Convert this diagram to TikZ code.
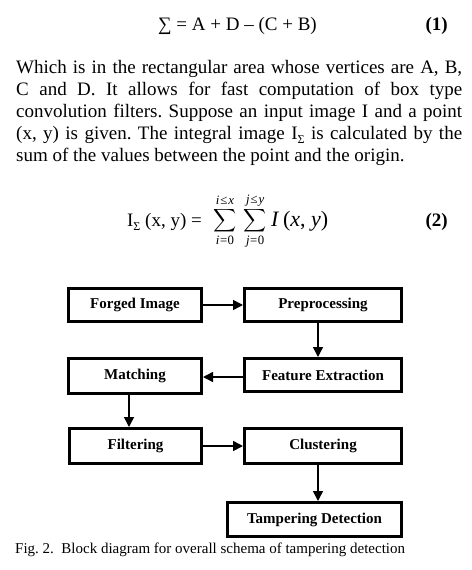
\documentclass[tikz,border=0pt]{standalone}
\usepackage{fontspec}
\setmainfont{Liberation Serif}
\usetikzlibrary{arrows.meta}
\frenchspacing
\newcommand{\subsig}{\raisebox{-4pt}{\fontsize{12}{12}\selectfont Σ}}
\newcommand{\limtxt}[1]{\mbox{\fontsize{8}{8}\selectfont #1}}
\begin{document}
\begin{tikzpicture}[x=1pt,y=-1pt,
  box/.style={draw, line width=3pt, inner sep=0pt, font=\fontsize{15}{18}\selectfont\bfseries},
  txt/.style={inner sep=0pt, anchor=base west, font=\fontsize{19}{22}\selectfont},
  arr/.style={line width=1.5pt, -{Triangle[length=10pt,width=10pt]}}]
\useasboundingbox (0,0) rectangle (471,570);

% equation 1
\node[inner sep=0pt, anchor=base, font=\fontsize{19}{22}\selectfont] (eqa) at (237.5,30) {∑ = A + D – (C + B)};
\node[inner sep=0pt, anchor=base east, font=\fontsize{19}{22}\selectfont\bfseries] (eqan) at (448,30) {(1)};

% paragraph
\node[txt] (l1) at (16,73) {\makebox[446pt][s]{Which is in the rectangular area whose vertices are A, B,}};
\node[txt] (l2) at (16,95) {\makebox[446pt][s]{C and D. It allows for fast computation of box type}};
\node[txt] (l3) at (16,117) {\makebox[446pt][s]{convolution filters. Suppose an input image I and a point}};
\node[txt] (l4) at (16,139) {\makebox[446pt][s]{(x, y) is given. The integral image I\subsig{} is calculated by the}};
\node[txt] (l5) at (16,161) {sum of the values between the point and the origin.};

% equation 2
\node[inner sep=0pt, anchor=base east, font=\fontsize{19}{22}\selectfont] (eqbl) at (202,226) {I\subsig{} (x, y) =};
\node[inner sep=0pt, anchor=west, scale=1.6] (eqbs) at (213,221) {$\displaystyle\sum_{\limtxt{\textit{i}\kern0.4pt=\kern0.2pt0}}^{\limtxt{\textit{i}\kern0.6pt≤\kern0.6pt\textit{x}}}\;\sum_{\limtxt{\textit{j}\kern0.4pt=\kern0.2pt0}}^{\limtxt{\textit{j}\kern0.6pt≤\kern0.6pt\textit{y}}}$};
\node[inner sep=0pt, anchor=base west, font=\fontsize{22}{24}\selectfont] (eqbr) at (271,226) {\textit{I}\,(\textit{x}, \textit{y})};
\node[inner sep=0pt, anchor=base east, font=\fontsize{19}{22}\selectfont\bfseries] (eqbn) at (448,226) {(2)};

% boxes
\node[box, minimum width=133pt, minimum height=33pt] (fi) at (135,305) {Forged Image};
\node[box, minimum width=157pt, minimum height=33pt] (pre) at (323,305) {Preprocessing};
\node[box, minimum width=157pt, minimum height=33pt] (fe) at (323,375) {Feature Extraction};
\node[box, minimum width=133pt, minimum height=35pt] (ma) at (135,376) {Matching};
\node[box, minimum width=132pt, minimum height=35pt] (fil) at (135.5,446) {Filtering};
\node[box, minimum width=157pt, minimum height=35pt] (cl) at (323,446) {Clustering};
\node[box, minimum width=174pt, minimum height=34pt] (td) at (314.5,519.5) {Tampering Detection};

% arrows
\draw[arr] (fi.east) -- (pre.west);
\draw[arr] ([xshift=-5pt]pre.south) -- ([xshift=-5pt]fe.north);
\draw[arr] ([yshift=-2pt]fe.west) -- ([yshift=-2pt]fe.west -| ma.east);
\draw[arr] ([xshift=-6pt]ma.south) -- ([xshift=-6pt]ma.south |- fil.north);
\draw[arr] (fil.east) -- (cl.west);
\draw[arr] ([xshift=-5pt]cl.south) -- ([xshift=-5pt]cl.south |- td.north);

% caption
\node[inner sep=0pt, anchor=base west, font=\fontsize{15}{18}\selectfont] (cap) at (15,553) {Fig. 2.\ \ Block diagram for overall schema of tampering detection};
\end{tikzpicture}
\end{document}
